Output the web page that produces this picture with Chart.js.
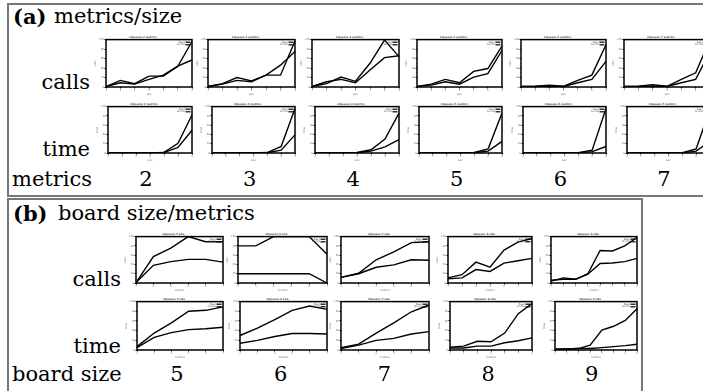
<!DOCTYPE html>
<html>
<head>
<meta charset="utf-8">
<script src="https://cdn.jsdelivr.net/npm/chart.js@4.4.1/dist/chart.umd.min.js"></script>
<style>
  body { margin: 0; width: 703px; height: 391px; overflow: hidden; background: #fff; position: relative; }
  .box { position: absolute; border: 2px solid #777; }
  .t { position: absolute; font-family: "DejaVu Serif", "Liberation Serif", serif; font-size: 21px; line-height: 25px; white-space: nowrap; color: #000; }
  .b { font-weight: bold; }
  canvas { position: absolute; }
</style>
</head>
<body>
<div class="box" style="left:7px;top:3px;width:720px;height:190px;"></div>
<div class="box" style="left:7px;top:198px;width:632px;height:220px;"></div>

<script>
// two series in every small chart
var seriesNames = ['base', 'memo'];

// (a) metrics/size : one chart per number of metrics, x = board size
var aMetrics = [2, 3, 4, 5, 6, 7];
var aSizes = ['3', '4', '5', '6', '7', '8', '9'];
var aCallsBase = [
    [1, 14, 7, 23, 23, 43, 96],
    [1, 7, 20, 13, 25, 25, 97],
    [1, 7, 21, 12, 50, 99, 64],
    [1, 6, 16, 9, 33, 39, 86],
    [1, 1.5, 4, 1.5, 14, 25, 89],
    [1, 1.5, 5, 1.5, 16, 30, 100]
];
var aCallsMemo = [
    [1, 9, 6, 16, 25, 44, 57],
    [1, 6, 14, 11, 25, 46, 75],
    [1, 11, 16, 9, 36, 62, 66],
    [1, 4, 11, 6, 21, 28, 77],
    [1, 1, 2, 1, 9, 16, 54],
    [1, 1, 2, 1, 9, 16, 75]
];
var aTimeBase = [
    [0, 0, 0, 0, 1.4, 21, 82],
    [0, 0, 0, 0, 1, 14, 96],
    [0, 0, 0, 1, 7, 30, 86],
    [0, 0, 0, 0, 1, 9, 86],
    [0, 0, 0, 0, 0.5, 6, 96],
    [0, 0, 0, 0, 0.5, 9, 95]
];
var aTimeMemo = [
    [0, 0, 0, 0, 1, 12, 49],
    [0, 0, 0, 0, 0.5, 6, 39],
    [0, 0, 0, 0.5, 4, 13, 29],
    [0, 0, 0, 0, 0.5, 4, 25],
    [0, 0, 0, 0, 0.3, 3, 14],
    [0, 0, 0, 0, 0.3, 4, 25]
];

// (b) board size/metrics : one chart per board size, x = metrics
var bBoards = [5, 6, 7, 8, 9];
var bMetricLabels = [
    ['2', '3', '4', '5', '6', '7'],
    ['2', '3', '4', '5', '6', '7'],
    ['2', '3', '4', '5', '6', '7'],
    ['2', '3', '4', '5', '6', '7', '8'],
    ['2', '3', '4', '5', '6', '7', '8', '9']
];
var bCallsBase = [
    [1, 57, 75, 100, 89, 89],
    [80, 80, 100, 100, 100, 62],
    [12, 21, 50, 67, 87, 89],
    [11, 18, 45, 34, 71, 88, 96],
    [4, 11, 8, 20, 70, 69, 80, 98]
];
var bCallsMemo = [
    [1, 38, 46, 51, 51, 45],
    [20, 20, 20, 20, 20, 0],
    [12, 20, 34, 39, 50, 49],
    [9, 11, 29, 25, 43, 48, 53],
    [6, 8, 8, 19, 42, 43, 46, 53]
];
var bTimeBase = [
    [7, 35, 56, 80, 82, 89],
    [30, 45, 63, 82, 91, 84],
    [5, 12, 35, 56, 79, 93],
    [6, 8, 18, 17, 35, 75, 96],
    [2, 2, 3, 10, 41, 49, 61, 85]
];
var bTimeMemo = [
    [5, 26, 36, 42, 44, 47],
    [14, 20, 28, 34, 34, 33],
    [3, 10, 20, 24, 33, 38],
    [4, 4, 8, 8, 15, 19, 25],
    [1, 2, 3, 3, 5, 7, 9, 12]
];

// plot-area edges of the small charts (page pixels)
var aRight = [192, 295, 399, 502, 606, 710];
var aCallsLeft = [106, 208, 312, 417, 521, 624];
var aTimeLeft = [108, 212, 315, 419, 523, 627];
var bRight = [223, 327, 429, 532, 637];
var bCallsLeft = [136, 238, 341, 448, 551];
var bTimeLeft = [137, 240, 341, 450, 555];

var tiny = { family: '"DejaVu Sans", sans-serif', size: 2.6, lineHeight: 1 };

// black frame round the plot area
var frame = {
    id: 'frame',
    afterDatasetsDraw: function (chart) {
        var a = chart.chartArea, ctx = chart.ctx;
        ctx.save();
        ctx.strokeStyle = '#000';
        ctx.lineWidth = 1.5;
        ctx.strokeRect(a.left, a.top, a.right - a.left, a.bottom - a.top);
        ctx.restore();
    }
};

// small key in the top right corner
var key = {
    id: 'key',
    afterDraw: function (chart) {
        var a = chart.chartArea, ctx = chart.ctx;
        ctx.save();
        ctx.font = '2.6px "DejaVu Sans"';
        ctx.textAlign = 'right';
        ctx.textBaseline = 'middle';
        chart.data.datasets.forEach(function (ds, i) {
            var y = a.top + 2.6 + i * 2.6;
            ctx.fillStyle = '#555';
            ctx.fillText(ds.label, a.right - 7, y);
            ctx.strokeStyle = '#000';
            ctx.lineWidth = 1.2;
            ctx.beginPath();
            ctx.moveTo(a.right - 6.5, y);
            ctx.lineTo(a.right - 1.5, y);
            ctx.stroke();
        });
        ctx.restore();
    }
};

function addChart(left, top, right, bottom, labels, base, memo, title, yTitle, xTitle) {
    var L = 12, T = 6, R = 3, B = 9;
    var cv = document.createElement('canvas');
    cv.width = right - left + L + R;
    cv.height = bottom - top + T + B;
    cv.style.left = (left - L) + 'px';
    cv.style.top = (top - T) + 'px';
    document.body.appendChild(cv);

    var line = function (label, data) {
        return {
            label: label, data: data,
            borderColor: '#000', backgroundColor: '#000',
            borderWidth: 1.4, pointRadius: 0, tension: 0, fill: false
        };
    };

    new Chart(cv, {
        type: 'line',
        data: {
            labels: labels,
            datasets: [line(seriesNames[0], base), line(seriesNames[1], memo)]
        },
        options: {
            responsive: false,
            animation: false,
            events: [],
            layout: { padding: { left: 0, right: R, top: 0, bottom: 0 } },
            plugins: {
                title: {
                    display: true, text: title, color: '#555', font: tiny,
                    padding: { top: 2.5, bottom: 0.5 }
                },
                legend: { display: false },
                tooltip: { enabled: false }
            },
            scales: {
                x: {
                    grid: { display: true, drawOnChartArea: false, tickLength: 1.5, color: '#000' },
                    border: { display: false },
                    ticks: { font: tiny, color: '#777', padding: 0.5, maxRotation: 0, autoSkip: false },
                    title: { display: true, text: xTitle, font: tiny, color: '#666', padding: 0.5 },
                    afterFit: function (s) { s.height = B; }
                },
                y: {
                    min: 0, max: 100,
                    grid: { display: true, drawOnChartArea: false, tickLength: 1.5, color: '#000' },
                    border: { display: false },
                    ticks: { stepSize: 20, font: tiny, color: '#777', padding: 0.5 },
                    title: { display: true, text: yTitle, font: tiny, color: '#666', padding: 0.5 },
                    afterFit: function (s) { s.width = L; }
                }
            }
        },
        plugins: [frame, key]
    });
}

function addText(txt, x, top, align, bold) {
    var d = document.createElement('div');
    d.className = 't' + (bold ? ' b' : '');
    d.textContent = txt;
    d.style.top = top + 'px';
    if (align === 'right') {
        d.style.left = '0px';
        d.style.width = x + 'px';
        d.style.textAlign = 'right';
    } else if (align === 'center') {
        d.style.left = (x - 30) + 'px';
        d.style.width = '60px';
        d.style.textAlign = 'center';
    } else {
        d.style.left = x + 'px';
    }
    document.body.appendChild(d);
}

// panel (a)
addText('(a)', 13, 4, 'left', true);
addText('metrics/size', 54, 4, 'left');
addText('calls', 90, 70, 'right');
addText('time', 90, 137, 'right');
addText('metrics', 12, 167, 'left');
for (var i = 0; i < aMetrics.length; i++) {
    var t = 'nQueens ' + aMetrics[i] + ' metrics';
    addChart(aCallsLeft[i], 40, aRight[i], 87, aSizes, aCallsBase[i], aCallsMemo[i], t, 'calls', 'size');
    addChart(aTimeLeft[i], 107, aRight[i], 153, aSizes, aTimeBase[i], aTimeMemo[i], t, 'time', 'size');
    addText(String(aMetrics[i]), 146 + i * 103.6, 167, 'center');
}

// panel (b)
addText('(b)', 13, 201, 'left', true);
addText('board size/metrics', 58, 201, 'left');
addText('calls', 121, 267, 'right');
addText('time', 121, 334, 'right');
addText('board size', 12, 362, 'left');
for (var j = 0; j < bBoards.length; j++) {
    var tb = 'nQueens ' + bBoards[j] + ' size';
    addChart(bCallsLeft[j], 237, bRight[j], 283, bMetricLabels[j], bCallsBase[j], bCallsMemo[j], tb, 'calls', 'metrics');
    addChart(bTimeLeft[j], 302, bRight[j], 350, bMetricLabels[j], bTimeBase[j], bTimeMemo[j], tb, 'time', 'metrics');
    addText(String(bBoards[j]), 177 + j * 103.7, 362, 'center');
}
</script>
</body>
</html>
